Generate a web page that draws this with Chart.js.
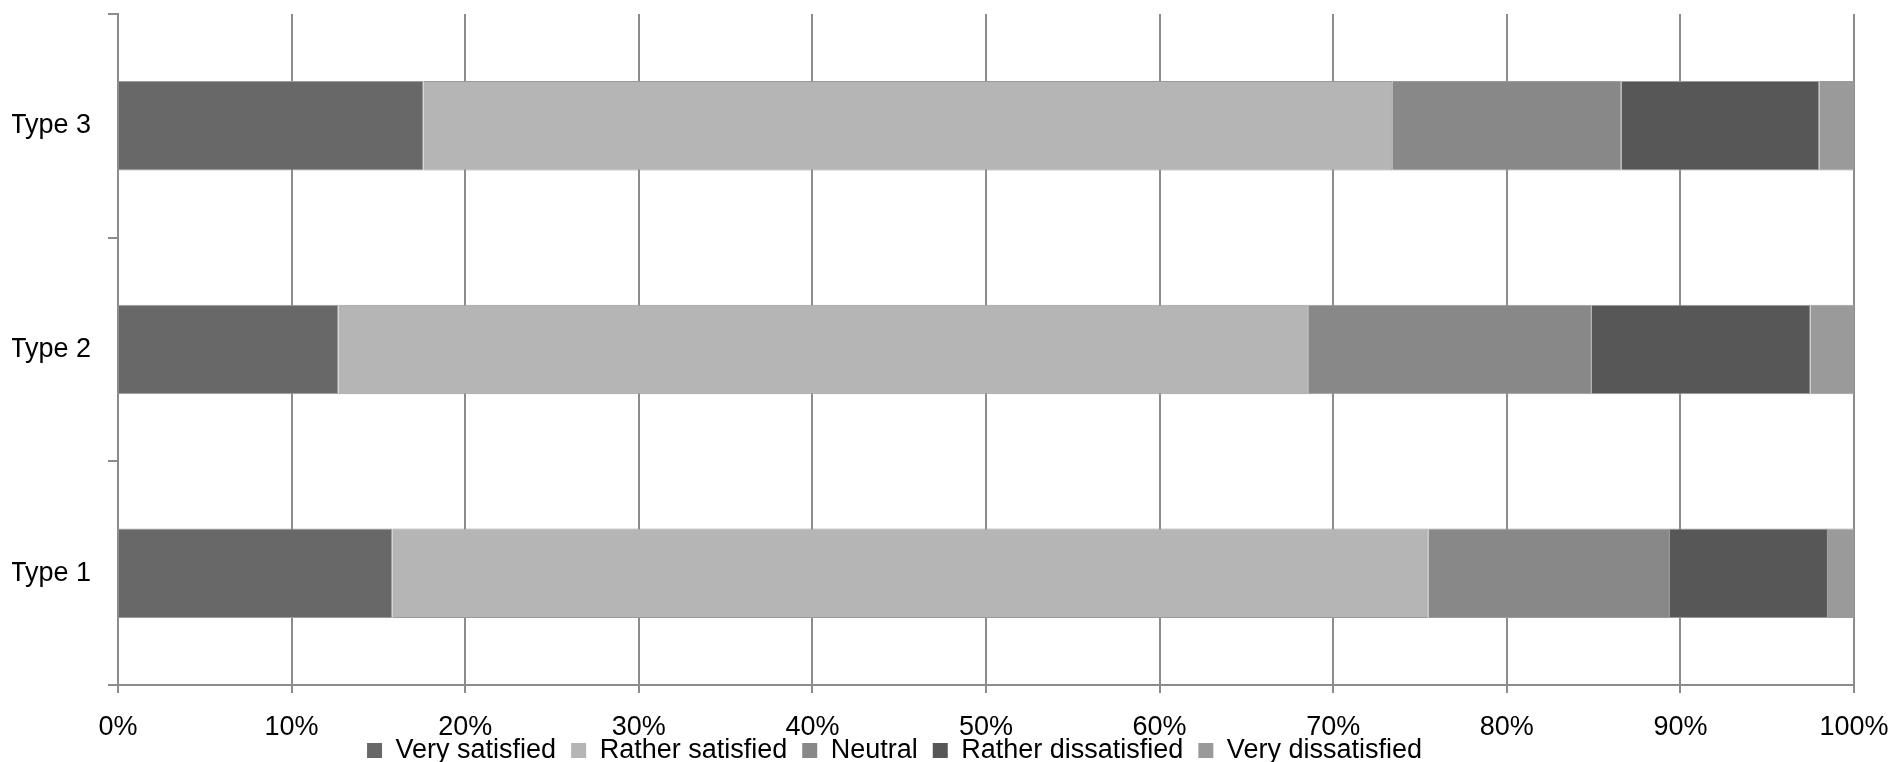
<!DOCTYPE html>
<html lang="en">
<head>
<meta charset="utf-8">
<title>Satisfaction by type</title>
<script src="https://cdn.jsdelivr.net/npm/chart.js@4.4.1/dist/chart.umd.min.js"></script>
<style>
  html, body { margin: 0; padding: 0; background: #fff; overflow: hidden; }
  #contenedor { width: 1895px; height: 774px; }
</style>
</head>
<body>
<div id="contenedor"><canvas id="chart"></canvas></div>
<script>
// Datos del gráfico (porcentajes por tipo, de abajo hacia arriba)
const categorias = ["Type 1", "Type 2", "Type 3"];
const series = ["Very satisfied", "Rather satisfied", "Neutral", "Rather dissatisfied", "Very dissatisfied"];
const muySatisfecho = [15.8, 12.7, 17.6];
const algoSatisfecho = [59.7, 55.9, 55.8];
const neutral = [13.9, 16.3, 13.2];
const algoInsatisfecho = [9.1, 12.6, 11.4];
const muyInsatisfecho = [1.5, 2.5, 2.0];
const ticksX = [0, 10, 20, 30, 40, 50, 60, 70, 80, 90, 100];

const valores = [muySatisfecho, algoSatisfecho, neutral, algoInsatisfecho, muyInsatisfecho];
const colores = ["#686868", "#b5b5b5", "#888888", "#575757", "#9a9a9a"];
const gris = "#8c8c8c";

Chart.defaults.font.family = "'Liberation Sans', Arial, sans-serif";
Chart.defaults.font.size = 27;
Chart.defaults.color = "#000";

// la leyenda va un poco a la izquierda y las etiquetas del eje x quedan
// montadas sobre ella, así que se agranda la zona de recorte del eje
const ajustarLayout = {
  id: "ajustarLayout",
  afterLayout(chart) {
    chart.legend.left -= 56;
    chart.legend.right -= 56;
    chart.scales.x.bottom += 30;
  },
};

const ctx = document.getElementById("chart");

const grafico = new Chart(ctx, {
  type: "bar",
  data: {
    labels: categorias,
    datasets: series.map((nombre, i) => ({
      label: nombre,
      data: valores[i],
      backgroundColor: colores[i],
      borderColor: "#9a9a9a",
      borderWidth: 1,
      categoryPercentage: 1,
      barPercentage: 0.4,
    })),
  },
  options: {
    indexAxis: "y",
    responsive: true,
    maintainAspectRatio: false,
    animation: false,
    layout: {
      padding: { top: 14, left: 12, right: 6, bottom: 0 },
    },
    plugins: {
      tooltip: { enabled: false },
      legend: {
        position: "bottom",
        labels: {
          boxWidth: 15,
          boxHeight: 15,
          padding: 15,
          generateLabels: (chart) =>
            Chart.defaults.plugins.legend.labels
              .generateLabels(chart)
              .map((l) => ({ ...l, lineWidth: 0 })),
        },
      },
    },
    scales: {
      x: {
        stacked: true,
        min: 0,
        max: 100,
        afterBuildTicks: (scale) => {
          scale.ticks = ticksX.map((v) => ({ value: v }));
        },
        afterFit: (scale) => {
          scale.height = 37;
          scale.paddingLeft = 0;
          scale.paddingRight = 41;
        },
        grid: { color: gris, lineWidth: 2, tickLength: 8 },
        border: { color: gris, width: 2 },
        ticks: {
          padding: 18,
          callback: (v) => v + "%",
        },
      },
      y: {
        stacked: true,
        reverse: true,
        afterFit: (scale) => {
          scale.width = 106;
          scale.paddingTop = 0;
          scale.paddingBottom = 0;
        },
        grid: { drawOnChartArea: false, color: gris, lineWidth: 2, tickLength: 10 },
        border: { color: gris, width: 2 },
        ticks: { padding: 17 },
      },
    },
  },
  plugins: [ajustarLayout],
});
</script>
</body>
</html>
